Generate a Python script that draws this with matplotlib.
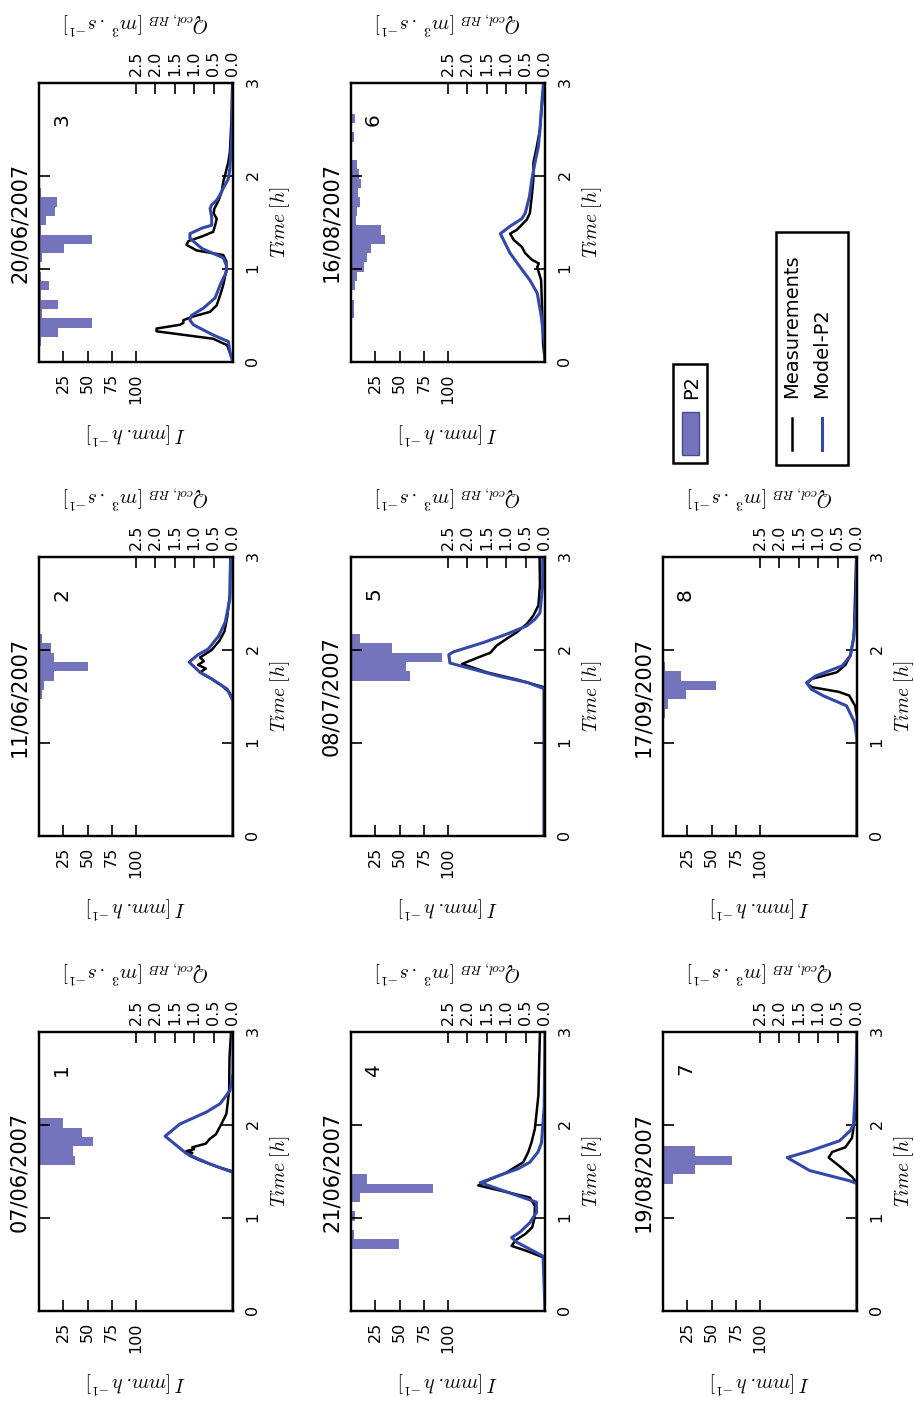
import matplotlib
matplotlib.use('Agg')
import matplotlib.pyplot as plt
from matplotlib.patches import Rectangle
from matplotlib.ticker import FormatStrFormatter

plt.rcParams['font.family'] = 'DejaVu Sans'
plt.rcParams['mathtext.fontset'] = 'cm'

BAR_C = '#7474bc'
MOD_C = '#3448aa'

dates = ['07/06/2007', '11/06/2007', '20/06/2007', '21/06/2007',
         '08/07/2007', '16/08/2007', '19/08/2007', '17/09/2007']

# rainfall P2, 6-min bins: start time [h], intensity [mm/h]
rain1_t = [1.57, 1.67, 1.77, 1.87, 1.97]
rain1_i = [37, 35, 56, 44, 25]
rain2_t = [1.47, 1.57, 1.67, 1.77, 1.87, 1.97, 2.07, 2.17, 2.27, 2.37, 2.47, 2.57, 2.67, 2.77]
rain2_i = [3, 5, 15, 51, 15, 12, 3, 1, 1, 1, 1, 1, 1, 1]
rain3_t = [0.17, 0.27, 0.37, 0.47, 0.57, 0.67, 0.77, 0.87, 0.97, 1.07, 1.17, 1.27, 1.37, 1.47, 1.57, 1.67, 1.77]
rain3_i = [2, 20, 55, 3, 20, 2, 10, 2, 0, 3, 26, 55, 2, 7, 17, 19, 2]
rain4_t = [0.67, 0.77, 0.97, 1.17, 1.27, 1.37]
rain4_i = [49, 3, 4.5, 9, 85, 17]
rain5_t = [1.67, 1.77, 1.87, 1.97, 2.07]
rain5_i = [61, 57, 94, 42, 9]
rain6_t = [0.47, 0.57, 0.77, 0.87, 0.97, 1.07, 1.17, 1.27, 1.37, 1.47, 1.57, 1.67, 1.77, 1.87, 1.97, 2.07, 2.37, 2.57]
rain6_i = [3, 3, 4, 6, 13, 16, 21, 35, 31, 5, 6, 9, 7, 10, 8, 6, 3, 4]
rain7_t = [1.37, 1.47, 1.57, 1.67]
rain7_i = [10, 33, 71, 33]
rain8_t = [1.27, 1.37, 1.47, 1.57, 1.67, 1.77]
rain8_i = [2, 5.5, 23.5, 55, 19, 2]

# discharge Q_col,RB [m3/s]: measurements and Model-P2
t1_meas = [0, 1.5, 1.55, 1.62, 1.67, 1.70, 1.72, 1.74, 1.76, 1.80, 1.85, 1.90, 2.01, 2.12, 2.37, 2.73, 3.0]
q1_meas = [0.0, 0.0, 0.4, 0.85, 1.12, 1.05, 1.2, 1.0, 1.05, 0.7, 0.6, 0.44, 0.3, 0.17, 0.1, 0.09, 0.05]
t1_mod = [0, 1.49, 1.58, 1.69, 1.88, 2.01, 2.14, 2.23, 2.37, 2.55, 3.0]
q1_mod = [0.0, 0.0, 0.59, 1.19, 1.75, 1.37, 0.68, 0.33, 0.08, 0.0, 0.0]

t2_meas = [0, 1.47, 1.55, 1.62, 1.70, 1.76, 1.80, 1.84, 1.88, 1.92, 2.0, 2.1, 2.2, 2.35, 2.6, 3.0]
q2_meas = [0.0, 0.0, 0.1, 0.3, 0.6, 0.85, 0.7, 0.9, 0.75, 0.85, 0.55, 0.35, 0.22, 0.15, 0.08, 0.07]
t2_mod = [0, 1.45, 1.58, 1.69, 1.76, 1.87, 1.95, 2.01, 2.15, 2.3, 2.55, 3.0]
q2_mod = [0.0, 0.0, 0.15, 0.55, 0.85, 1.13, 0.9, 0.64, 0.37, 0.2, 0.08, 0.06]

t3_meas = [0, 0.18, 0.25, 0.33, 0.36, 0.40, 0.42, 0.45, 0.49, 0.54, 0.61, 0.72, 0.83, 0.93, 1.0, 1.08,
           1.15, 1.20, 1.26, 1.30, 1.35, 1.40, 1.47, 1.54, 1.60, 1.65, 1.73, 1.83, 1.94, 2.05, 2.15, 2.26, 2.6, 3.0]
q3_meas = [0.0, 0.15, 0.51, 1.97, 1.97, 1.37, 1.28, 1.28, 1.02, 0.59, 0.42, 0.33, 0.25, 0.2, 0.17, 0.17,
           0.25, 0.94, 1.2, 1.15, 0.8, 0.51, 0.46, 0.42, 0.5, 0.48, 0.38, 0.29, 0.25, 0.18, 0.12, 0.08, 0.04, 0.02]
t3_mod = [0, 0.11, 0.22, 0.29, 0.40, 0.45, 0.50, 0.58, 0.69, 0.83, 0.97, 1.04, 1.12, 1.22, 1.33, 1.38,
          1.44, 1.47, 1.56, 1.65, 1.69, 1.74, 1.80, 1.87, 1.97, 2.08, 2.44, 3.0]
q3_mod = [0.0, 0.08, 0.12, 0.51, 1.02, 1.11, 1.07, 0.76, 0.46, 0.33, 0.17, 0.17, 0.25, 0.8, 1.11, 1.11,
          0.8, 0.55, 0.55, 0.59, 0.55, 0.42, 0.33, 0.25, 0.12, 0.08, 0.03, 0.0]

t4_meas = [0, 0.57, 0.65, 0.70, 0.76, 0.83, 0.90, 1.0, 1.13, 1.22, 1.35, 1.40, 1.49, 1.60, 1.71, 1.81, 1.96, 2.32, 2.67, 3.0]
q4_meas = [0.0, 0.0, 0.5, 0.86, 0.76, 0.5, 0.33, 0.27, 0.26, 0.39, 1.72, 1.5, 0.99, 0.56, 0.43, 0.35, 0.26, 0.17, 0.15, 0.13]
t4_mod = [0, 0.59, 0.74, 0.79, 0.85, 0.95, 1.06, 1.17, 1.38, 1.46, 1.53, 1.60, 1.71, 1.81, 2.2, 3.0]
q4_mod = [0.0, 0.05, 0.73, 0.86, 0.64, 0.39, 0.22, 0.22, 1.67, 1.16, 0.69, 0.39, 0.18, 0.09, 0.02, 0.0]

t5_meas = [0, 1.60, 1.68, 1.76, 1.85, 1.90, 1.94, 1.97, 2.05, 2.12, 2.19, 2.28, 2.37, 2.48, 2.7, 3.0]
q5_meas = [0.03, 0.03, 0.7, 1.5, 2.14, 1.84, 1.6, 1.41, 1.24, 0.99, 0.73, 0.47, 0.3, 0.17, 0.13, 0.14]
t5_mod = [0, 1.58, 1.65, 1.72, 1.86, 1.95, 1.98, 2.08, 2.17, 2.26, 2.33, 2.40, 2.7, 3.0]
q5_mod = [0.0, 0.0, 0.45, 1.2, 2.45, 2.48, 2.36, 1.59, 0.99, 0.47, 0.26, 0.13, 0.06, 0.06]

t6_meas = [0, 0.2, 0.5, 0.88, 1.02, 1.06, 1.10, 1.17, 1.24, 1.31, 1.38, 1.42, 1.53, 1.60, 1.78, 1.96, 2.14, 2.32, 2.5, 2.67, 2.95]
q6_meas = [0.0, 0.05, 0.07, 0.1, 0.2, 0.16, 0.34, 0.51, 0.6, 0.8, 0.9, 0.73, 0.47, 0.39, 0.34, 0.3, 0.3, 0.21, 0.13, 0.1, 0.04]
t6_mod = [0, 0.16, 0.5, 0.74, 0.88, 1.02, 1.17, 1.38, 1.46, 1.54, 1.60, 1.78, 1.96, 2.14, 2.32, 2.50, 2.85, 3.0]
q6_mod = [0.0, 0.0, 0.1, 0.2, 0.39, 0.64, 0.9, 1.15, 0.9, 0.6, 0.51, 0.4, 0.34, 0.26, 0.17, 0.13, 0.07, 0.04]

t7_meas = [0, 1.37, 1.44, 1.55, 1.65, 1.71, 1.76, 1.86, 1.97, 2.15, 3.0]
q7_meas = [0.0, 0.0, 0.12, 0.43, 0.73, 0.64, 0.3, 0.13, 0.09, 0.03, 0.0]
t7_mod = [0, 1.37, 1.40, 1.51, 1.65, 1.72, 1.83, 1.94, 2.01, 2.37, 3.0]
q7_mod = [0.0, 0.0, 0.19, 1.22, 1.8, 1.22, 0.45, 0.17, 0.09, 0.04, 0.0]

t8_meas = [0, 1.28, 1.40, 1.51, 1.55, 1.60, 1.64, 1.69, 1.76, 1.84, 1.94, 2.15, 3.0]
q8_meas = [0.0, 0.0, 0.05, 0.2, 0.47, 1.16, 1.29, 1.16, 0.52, 0.3, 0.17, 0.08, 0.02]
t8_mod = [0, 1.04, 1.22, 1.40, 1.51, 1.58, 1.65, 1.72, 1.83, 1.94, 2.12, 2.37, 3.0]
q8_mod = [0.0, 0.0, 0.06, 0.27, 0.88, 1.18, 1.3, 1.07, 0.38, 0.17, 0.09, 0.04, 0.0]

rain = [(rain1_t, rain1_i), (rain2_t, rain2_i), (rain3_t, rain3_i), (rain4_t, rain4_i),
        (rain5_t, rain5_i), (rain6_t, rain6_i), (rain7_t, rain7_i), (rain8_t, rain8_i)]
meas = [(t1_meas, q1_meas), (t2_meas, q2_meas), (t3_meas, q3_meas), (t4_meas, q4_meas),
        (t5_meas, q5_meas), (t6_meas, q6_meas), (t7_meas, q7_meas), (t8_meas, q8_meas)]
mod = [(t1_mod, q1_mod), (t2_mod, q2_mod), (t3_mod, q3_mod), (t4_mod, q4_mod),
       (t5_mod, q5_mod), (t6_mod, q6_mod), (t7_mod, q7_mod), (t8_mod, q8_mod)]

W, H = 914, 1406
fig = plt.figure(figsize=(W / 100, H / 100), dpi=100)

# the whole figure is laid out turned a quarter turn
col_x = [39, 351, 663]
row_y = [83, 557, 1032]
pw, ph = 194, 279

for k in range(8):
    r, c = divmod(k, 3)
    x0 = col_x[r]
    y0 = row_y[2 - c]
    ax = fig.add_axes([x0 / W, 1 - (y0 + ph) / H, pw / W, ph / H])
    rt, ri = rain[k]
    ax.barh(rt, ri, height=0.1, align='edge', color=BAR_C, linewidth=0)
    ax.set_xlim(0, 200)
    ax.set_ylim(0, 3)
    ax.set_xticks([25, 50, 75, 100])
    ax.set_yticks([0, 1, 2, 3])
    ax.tick_params(axis='x', direction='in', length=8, width=1.2, labelsize=11.5,
                   labelrotation=90, pad=8, top=False)
    ax.tick_params(axis='y', direction='in', length=8, width=1.2, left=True, right=True,
                   labelleft=False, labelright=True, labelsize=11.5, labelrotation=90, pad=9)

    ax2 = ax.twiny()
    tm, qm = meas[k]
    ts, qs = mod[k]
    ax2.plot(qm, tm, color='k', lw=1.8)
    ax2.plot(qs, ts, color=MOD_C, lw=2.2)
    ax2.set_xlim(5, 0)
    ax2.set_xticks([0, 0.5, 1.0, 1.5, 2.0, 2.5])
    ax2.xaxis.set_major_formatter(FormatStrFormatter('%.1f'))
    ax2.tick_params(axis='x', direction='in', length=8, width=1.2, labelsize=11.5,
                    labelrotation=90, pad=5)
    for a in (ax, ax2):
        for s in a.spines.values():
            s.set_linewidth(1.6)

    ax.text(-0.10, 0.5, dates[k], rotation=90, ha='center', va='center',
            fontsize=15, transform=ax.transAxes)
    ax.text(0.116, 0.867, str(k + 1), rotation=90, ha='center', va='center',
            fontsize=14.5, transform=ax.transAxes)
    ax.text(1.245, 0.5, r'$Time\ [h]$', rotation=90, ha='center', va='center',
            fontsize=14, transform=ax.transAxes)
    ax.text(0.5, 1.215, r'$Q_{col,RB}\ [m^3\ .s^{-1}]$', rotation=180, ha='center',
            va='center', fontsize=14, transform=ax.transAxes)
    ax.text(0.5, -0.254, r'$I\ [mm.h^{-1}]$', rotation=180, ha='center',
            va='center', fontsize=14, transform=ax.transAxes)

# legends, drawn by hand in pixel units because they are turned too
lax = fig.add_axes([0, 0, 1, 1])
lax.set_xlim(0, W)
lax.set_ylim(H, 0)
lax.axis('off')
lax.add_patch(Rectangle((673, 364), 34, 99, fill=False, lw=1.8, ec='k'))
lax.add_patch(Rectangle((682, 412), 17, 43, fc=BAR_C, ec='#4a4a90', lw=1))
lax.text(692, 387, 'P2', rotation=90, ha='center', va='center', fontsize=14)
lax.add_patch(Rectangle((776, 232), 72, 233, fill=False, lw=1.8, ec='k'))
lax.plot([792, 792], [418, 450], color='k', lw=1.8)
lax.plot([822, 822], [418, 450], color=MOD_C, lw=2.2)
lax.text(792, 398, 'Measurements', rotation=90, ha='center', va='bottom', fontsize=14)
lax.text(822, 398, 'Model-P2', rotation=90, ha='center', va='bottom', fontsize=14)

fig.savefig('out.png', dpi=100)
